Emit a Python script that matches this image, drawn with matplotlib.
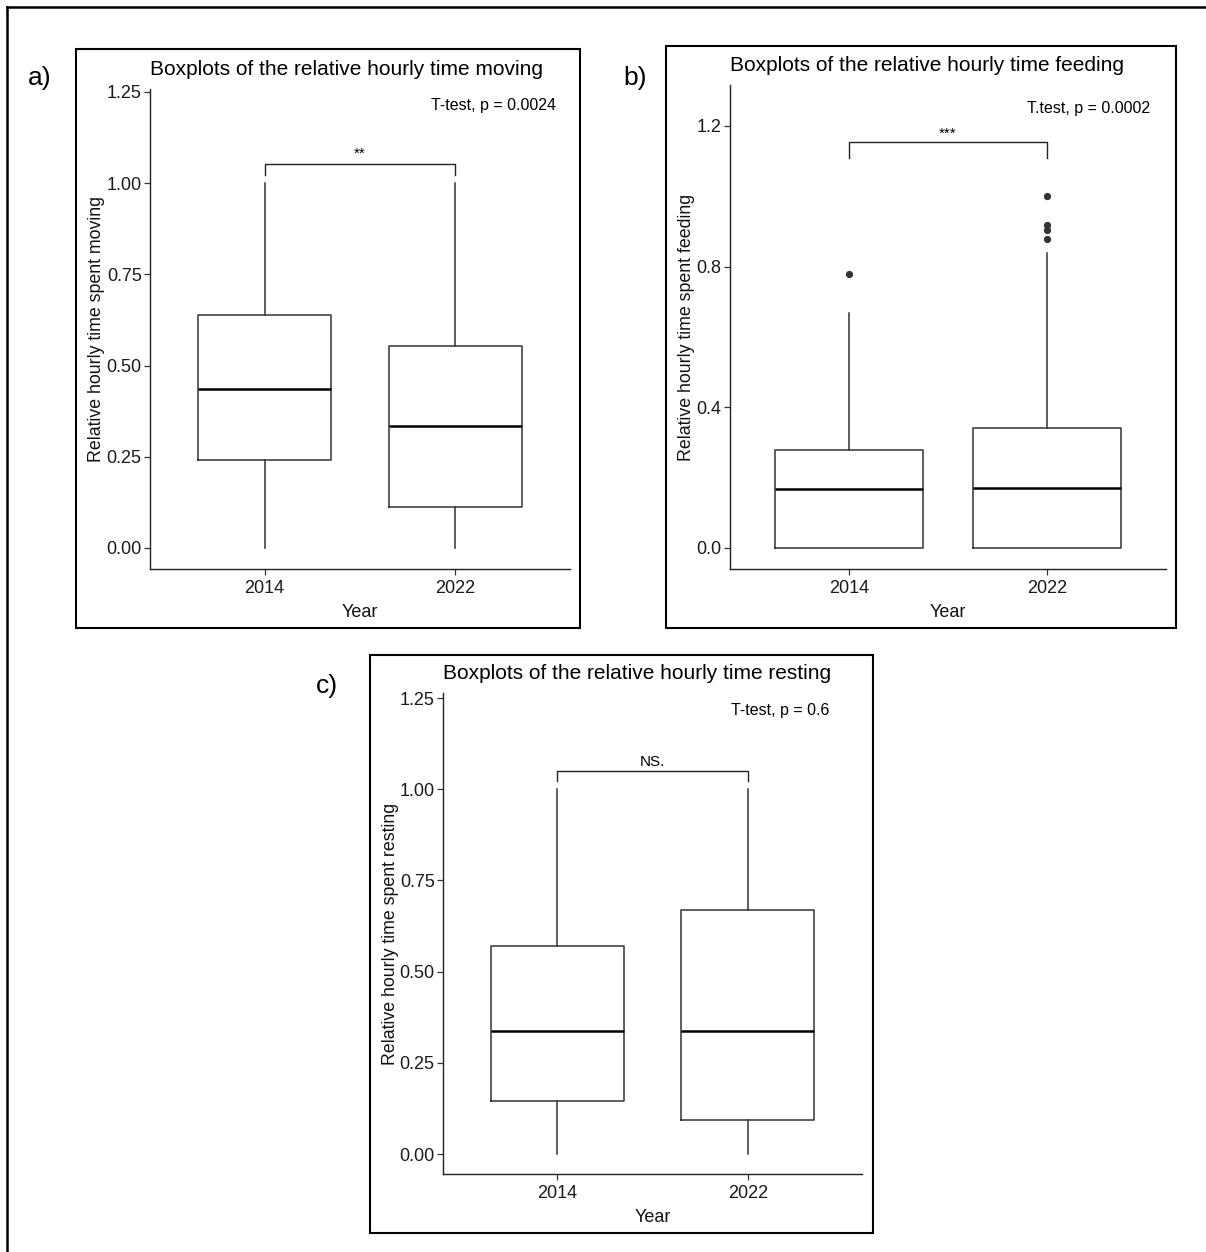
import matplotlib
matplotlib.use("Agg")
import matplotlib.pyplot as plt
from matplotlib.patches import Rectangle

plt.rcParams['font.family'] = ['Liberation Sans', 'DejaVu Sans']

# Daten
years = ['2014', '2022']

moving_q1 = [0.240, 0.112]
moving_med = [0.436, 0.334]
moving_q3 = [0.639, 0.554]
moving_lo = [0.0, 0.0]
moving_hi = [1.0, 1.0]
moving_fliers = [[], []]

feeding_q1 = [0.0, 0.0]
feeding_med = [0.168, 0.171]
feeding_q3 = [0.279, 0.341]
feeding_lo = [0.0, 0.0]
feeding_hi = [0.668, 0.839]
feeding_fliers = [[0.779], [1.0, 0.918, 0.903, 0.877]]

resting_q1 = [0.145, 0.093]
resting_med = [0.337, 0.337]
resting_q3 = [0.570, 0.669]
resting_lo = [0.0, 0.0]
resting_hi = [1.0, 1.0]
resting_fliers = [[], []]

W, H = 1206, 1252
fig = plt.figure(figsize=(W / 100, H / 100), dpi=100)


def fx(x):
    return x / W


def fy(y):
    return 1 - y / H


def frame(x0, y0, x1, y1, lw=1.5):
    fig.patches.append(Rectangle((fx(x0), fy(y1)), fx(x1) - fx(x0), fy(y0) - fy(y1),
                                 transform=fig.transFigure, fill=False,
                                 edgecolor='black', linewidth=lw))


def panel(box, ylim, yticks, yfmt, q1, med, q3, lo, hi, fliers, width,
          title, ylabel, ylab_x, ttest, ttest_xy, bracket, star, star_y):
    left, top, right, bottom = box
    ax = fig.add_axes([fx(left), fy(bottom), fx(right) - fx(left), fy(top) - fy(bottom)])
    stats = []
    for i in range(len(years)):
        stats.append({'q1': q1[i], 'med': med[i], 'q3': q3[i],
                      'whislo': lo[i], 'whishi': hi[i], 'fliers': fliers[i],
                      'label': years[i]})
    ax.bxp(stats, positions=[1, 2], widths=width, showcaps=False,
           boxprops=dict(color='#333333', linewidth=1.1),
           whiskerprops=dict(color='#333333', linewidth=1.1),
           medianprops=dict(color='black', linewidth=1.8),
           flierprops=dict(marker='o', markerfacecolor='#333333',
                           markeredgecolor='#333333', markersize=4.2))
    ax.set_xlim(0.4, 2.6)
    ax.set_ylim(*ylim)
    ax.set_yticks(yticks)
    ax.set_yticklabels([yfmt.format(v) for v in yticks])
    for s in ['top', 'right']:
        ax.spines[s].set_visible(False)
    for s in ['left', 'bottom']:
        ax.spines[s].set_linewidth(1.0)
        ax.spines[s].set_color('#222222')
    ax.tick_params(length=4, width=0.9, color='#333333', labelsize=13,
                   labelcolor='#1a1a1a', pad=2)
    ax.tick_params(axis='x', pad=4)
    ax.set_xlabel('Year', fontsize=13, labelpad=5, color='#111111')
    ax.set_ylabel(ylabel, fontsize=12.8, color='#111111')
    ax.yaxis.set_label_coords(ylab_x, 0.5)
    # Titel linksbündig am Panel
    ax.text(0.0, 1.0 + 10 / (bottom - top), title, transform=ax.transAxes,
            ha='left', va='bottom', fontsize=15)
    ax.text(ttest_xy[0], ttest_xy[1], ttest, ha='right', va='center', fontsize=11.5)
    by, bt = bracket
    ax.plot([1, 1, 2, 2], [bt, by, by, bt], color='#222222', linewidth=1.0)
    ax.text(1.5, star_y, star, ha='center', va='center', fontsize=11)
    return ax


ax_a = panel((150, 89, 570, 569), (-0.0576, 1.258), [0, 0.25, 0.5, 0.75, 1.0, 1.25], '{:.2f}',
             moving_q1, moving_med, moving_q3, moving_lo, moving_hi, moving_fliers, 0.70,
             'Boxplots of the relative hourly time moving',
             'Relative hourly time spent moving', -0.106,
             'T-test, p = 0.0024', (2.527, 1.213), (1.053, 1.022), '**', 1.080)

ax_b = panel((730, 85, 1166, 569), (-0.0597, 1.316), [0, 0.4, 0.8, 1.2], '{:.1f}',
             feeding_q1, feeding_med, feeding_q3, feeding_lo, feeding_hi, feeding_fliers, 0.75,
             'Boxplots of the relative hourly time feeding',
             'Relative hourly time spent feeding', -0.080,
             'T.test, p = 0.0002', (2.519, 1.248), (1.154, 1.109), '***', 1.176)

ax_c = panel((443, 693, 862, 1174), (-0.0548, 1.264), [0, 0.25, 0.5, 0.75, 1.0, 1.25], '{:.2f}',
             resting_q1, resting_med, resting_q3, resting_lo, resting_hi, resting_fliers, 0.70,
             'Boxplots of the relative hourly time resting',
             'Relative hourly time spent resting', -0.104,
             'T-test, p = 0.6', (2.427, 1.215), (1.050, 1.022), 'NS.', 1.076)

# Rahmen um die Panels
frame(76, 49, 580, 628)
frame(666, 46, 1176, 628)
frame(370, 655, 873, 1233)

# äußere Linien (oben und links)
fig.add_artist(plt.Line2D([fx(7), fx(W)], [fy(7), fy(7)], transform=fig.transFigure,
                          color='black', linewidth=1.8))
fig.add_artist(plt.Line2D([fx(7), fx(7)], [fy(7), fy(H)], transform=fig.transFigure,
                          color='black', linewidth=1.8))

# Panel-Buchstaben
fig.text(fx(40), fy(78), 'a)', ha='center', va='center', fontsize=19)
fig.text(fx(635), fy(78), 'b)', ha='center', va='center', fontsize=19)
fig.text(fx(327), fy(686), 'c)', ha='center', va='center', fontsize=19)

fig.savefig('out.png', dpi=100)
